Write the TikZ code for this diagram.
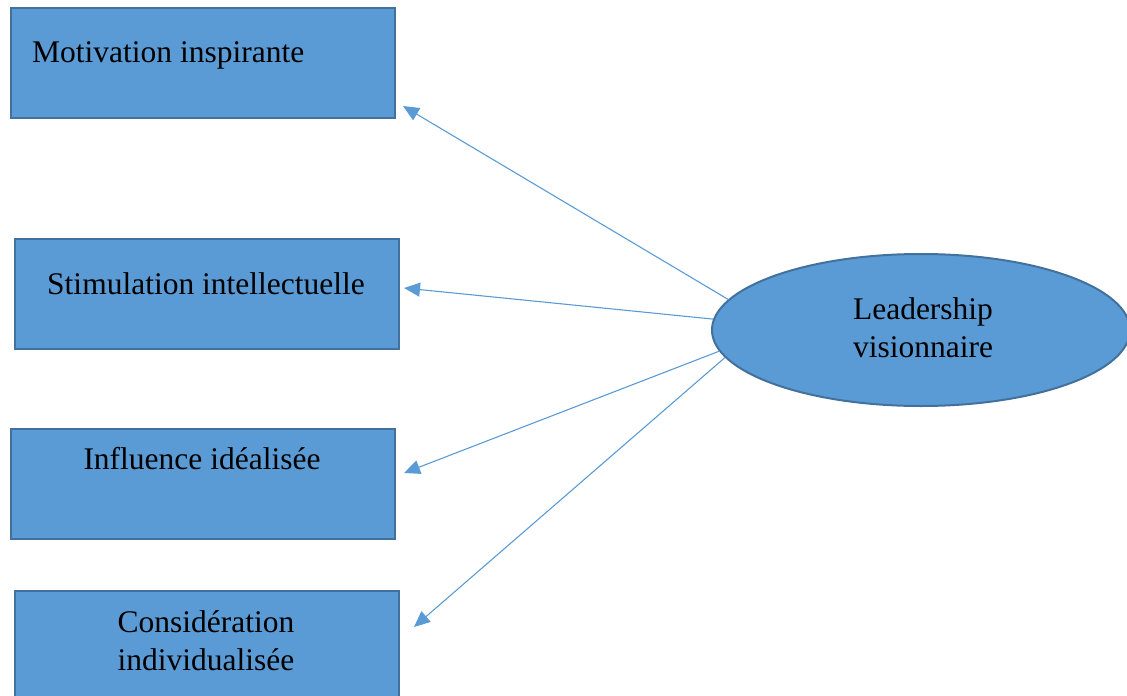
\documentclass[tikz,border=0pt]{standalone}
\usepackage{fontspec}
\setmainfont{Liberation Serif}
\usetikzlibrary{arrows.meta,shapes.geometric}
\definecolor{boxfill}{HTML}{5B9BD5}
\definecolor{boxline}{HTML}{41719C}
\definecolor{arrowblue}{HTML}{5B9BD5}
\tikzset{
  dimbox/.style={draw=boxline, fill=boxfill, line width=2pt, rectangle,
    minimum width=384pt, minimum height=110pt, inner sep=0pt, anchor=north west},
  lbl/.style={inner sep=0pt, font=\fontsize{31.5}{38}\selectfont, align=center, anchor=base},
  core/.style={draw=boxline, fill=boxfill, line width=2pt, ellipse,
    minimum width=418pt, minimum height=152pt, inner sep=0pt},
  link/.style={draw=arrowblue, line width=1.1pt,
    -{Triangle[length=16pt,width=14pt]}}
}
\begin{document}
\begin{tikzpicture}[x=1pt,y=-1pt]
  \useasboundingbox (0,0) rectangle (1127,696);
  \clip (0,0) rectangle (1127,696);

  % the four dimensions
  \node[dimbox] (m1) at (10,7) {};
  \node[dimbox] (m2) at (14,238) {};
  \node[dimbox] (m3) at (10,428) {};
  \node[dimbox, minimum height=116pt] (m4) at (14,590) {};

  % labels (base anchor of a two-line label is its last baseline)
  \node[lbl, anchor=base west] (l1) at (32,62) {Motivation inspirante};
  \node[lbl] (l2) at (206,294) {Stimulation intellectuelle};
  \node[lbl] (l3) at (202,469) {Influence idéalisée};
  \node[lbl] (l4) at (206,670) {Considération\\individualisée};

  % central concept
  \node[core] (lv) at (921,330) {};
  \node[lbl] (llv) at (923,357) {Leadership\\visionnaire};

  % arrow targets beside each box
  \coordinate (t1) at ([shift={(7,-13)}]m1.south east);
  \coordinate (t2) at ([shift={(4,-6)}]m2.east);
  \coordinate (t3) at ([shift={(8,-11)}]m3.east);
  \coordinate (t4) at ([shift={(14,37)}]m4.north east);

  \draw[link] (lv.171.3) -- (t1);
  \draw[link] (lv.177.8) -- (t2);
  \draw[link] (lv.186.2) -- (t3);
  \draw[link] (lv.188.7) -- (t4);
\end{tikzpicture}
\end{document}
